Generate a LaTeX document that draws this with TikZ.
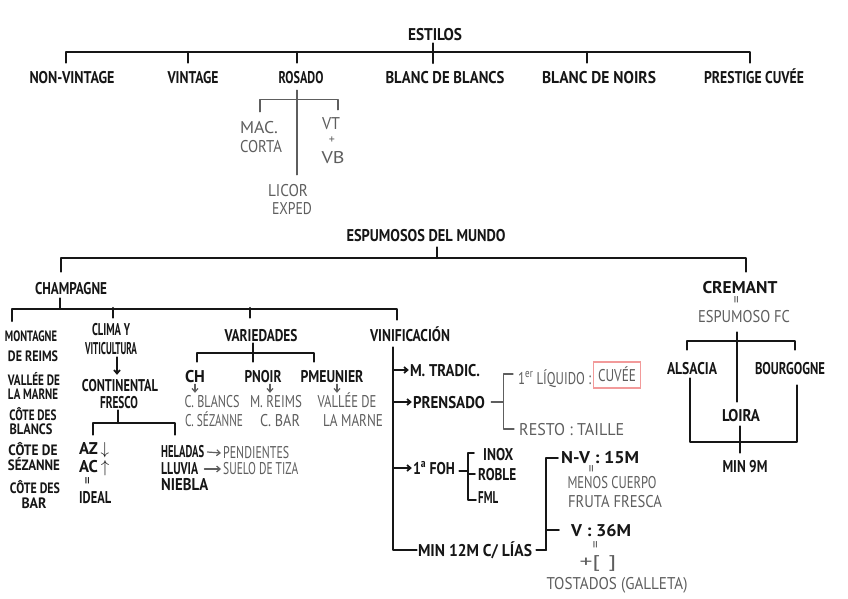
\documentclass[tikz,border=0pt]{standalone}
\usepackage{fontspec}
\setmainfont{PT Sans}
\usetikzlibrary{arrows.meta,calc}
\definecolor{ink}{HTML}{161616}
\definecolor{pen}{HTML}{5E5E5E}
\definecolor{rosy}{HTML}{F29A9A}
\newcommand\W[2]{\resizebox{#1pt}{\height}{#2}}
\begin{document}
\begin{tikzpicture}[x=1pt,y=-1pt,
  t/.style={inner sep=1pt,text height=12pt,text depth=0pt,font=\fontsize{17}{17}\selectfont\bfseries,text=ink},
  ts/.style={t,inner sep=0.3pt,font=\fontsize{15}{15}\selectfont\bfseries,text height=10.5pt},
  g/.style={inner sep=1pt,text height=12pt,text depth=0pt,font=\fontsize{17}{17}\selectfont,text=pen},
  eqm/.style={inner sep=0pt,text=#1,font=\fontsize{15}{15}\selectfont},
  ln/.style={draw=ink,line width=1.7pt,line cap=round,line join=round},
  gln/.style={draw=pen,line width=1.2pt,line cap=round,line join=round},
  arr/.style={-{Straight Barb[length=3.5pt,width=6pt]}},
]
\fill[white] (0,0) rectangle (848,599);
\useasboundingbox (0,0) rectangle (848,599);

% ---------- ESTILOS ----------
\node[t] (estilos) at (435,35) {\W{54}{ESTILOS}};
\node[t] (nv) at (72,78) {\W{85}{NON-VINTAGE}};
\node[t] (vin) at (193,78) {\W{51}{VINTAGE}};
\node[t] (ros) at (301,78) {\W{45}{ROSADO}};
\node[t] (bdb) at (445,78) {\W{119}{BLANC DE BLANCS}};
\node[t] (bdn) at (599,78) {\W{114}{BLANC DE NOIRS}};
\node[t] (pc) at (754,78) {\W{100}{PRESTIGE CUVÉE}};

\draw[ln] ($(nv.north)+(-6,-8)$) |- ($(pc.north)+(-4,-19)$) -- ($(pc.north)+(-4,-8)$);
\draw[ln] ($(vin.north)+(-5,-8)$) -- ++(0,-11);
\draw[ln] ($(ros.north)+(-4,-8)$) -- ++(0,-11);
\draw[ln] ($(bdn.north)+(-12,-8)$) -- ++(0,-11);
\draw[ln] ($(estilos.south)+(-2,1)$) -- ++(0,20);

% Rosado detail
\node[g] (mac) at (259,127) {\W{38}{MAC.}};
\node[g] (corta) at (261,147) {\W{42}{CORTA}};
\node[g] (vt) at (331,123) {\W{18}{VT}};
\node[eqm=pen,font=\fontsize{12}{12}\selectfont] (plus) at (332,140) {+};
\node[g] (vb) at (333,157) {\W{23}{VB}};
\node[g] (licor) at (288,190) {\W{40}{LICOR}};
\node[g] (exped) at (292,208) {\W{40}{EXPED}};
\draw[gln] ($(ros.south)+(-4,5)$) -- ($(licor.north)+(9,-8)$);
\draw[gln] ($(mac.north)+(1,-8)$) |- ($(vt.north)+(7,-16)$) -- ($(vt.north)+(7,-6)$);

% ---------- ESPUMOSOS DEL MUNDO ----------
\node[t] (esp) at (426,235) {\W{159}{ESPUMOSOS DEL MUNDO}};
\node[t] (champ) at (71,288) {\W{72}{CHAMPAGNE}};
\node[t] (cremant) at (740,287) {\W{75}{CREMANT}};
\draw[ln] ($(esp.south)+(11,5)$) -- ++(0,11);
\draw[ln] ($(champ.north)+(-10,-9)$) |- ($(cremant.north)+(6,-22)$) -- ($(cremant.north)+(6,-8)$);

% Champagne columns
\node[ts] (m1) at (31,336) {\W{52}{MONTAGNE}};
\node[ts] (m2) at (33,356) {\W{50}{DE REIMS}};
\node[ts] (m3) at (34,380) {\W{52}{VALLÉE DE}};
\node[ts] (m4) at (33,394) {\W{50}{LA MARNE}};
\node[ts] (m5) at (33,415) {\W{47}{CÔTE DES}};
\node[ts] (m6) at (31,429) {\W{43}{BLANCS}};
\node[ts] (m7) at (33,450) {\W{49}{CÔTE DE}};
\node[ts] (m8) at (34,465) {\W{52}{SÉZANNE}};
\node[ts] (m9) at (35,488) {\W{50}{CÔTE DES}};
\node[ts] (m10) at (34,503) {\W{25}{BAR}};

\node[t] (clima1) at (111,329) {\W{38}{CLIMA Y}};
\node[t] (clima2) at (111,348) {\W{52}{VITICULTURA}};
\node[t] (var) at (261,335) {\W{73}{VARIEDADES}};
\node[t] (vinif) at (410,335) {\W{80}{VINIFICACIÓN}};

\draw[ln] ($(champ.south)+(-11,3)$) -- ++(0,10);
\draw[ln] ($(m1.north)+(-19,-9)$) |- ($(vinif.north)+(-13,-19)$) -- ($(vinif.north)+(-13,-8)$);
\draw[ln] ($(clima1.north)+(2,-4)$) -- ++(0,-10);
\draw[ln] ($(var.north)+(-11,-10)$) -- ++(0,-10);

% Clima y viticultura
\node[t] (cont1) at (120,385) {\W{76}{CONTINENTAL}};
\node[t] (cont2) at (119,402) {\W{38}{FRESCO}};
\draw[ln,arr] ($(clima2.south)+(6,2)$) -- ($(cont1.north)+(-3,-3)$);
\draw[ln] ($(cont2.south)+(-1,1)$) -- ++(0,13);

\node[t,anchor=west] (az) at (78,448) {\W{30}{AZ\,$\downarrow$}};
\node[t,anchor=west] (ac) at (78,466) {\W{30}{AC\,$\uparrow$}};
\node[eqm=ink] (eq1) at (89,481) {\rotatebox{90}{=}};
\node[t,anchor=west] (ideal) at (78,497) {\W{32}{IDEAL}};
\node[t,anchor=west] (hel) at (160,451) {\W{43}{HELADAS}};
\node[g,anchor=west] (pend) at (222,452) {\W{66}{PENDIENTES}};
\node[t,anchor=west] (llu) at (160,468) {\W{37}{LLUVIA}};
\node[g,anchor=west] (suelo) at (222,468) {\W{75}{SUELO DE TIZA}};
\node[t,anchor=west] (nie) at (160,484) {\W{47}{NIEBLA}};
\draw[ln] ($(az.north west)+(15,-6)$) |- ($(hel.north west)+(15,-21)$) -- ($(hel.north west)+(15,-9)$);
\draw[gln,arr] ($(hel.east)+(2,1)$) -- ($(pend.west)+(-1,1)$);
\draw[gln,arr] ($(llu.east)+(5,1)$) -- ($(suelo.west)+(-1,1)$);

% Variedades
\node[t] (ch) at (195,376) {\W{20}{CH}};
\node[t] (pn) at (263,376) {\W{37}{PNOIR}};
\node[t] (pm) at (332,376) {\W{63}{PMEUNIER}};
\node[g] (cb) at (212,401) {\W{55}{C. BLANCS}};
\node[g] (cs) at (214,420) {\W{58}{C. SÉZANNE}};
\node[g] (mr) at (276,401) {\W{52}{M. REIMS}};
\node[g] (cbar) at (280,420) {\W{40}{C. BAR}};
\node[g] (vd) at (347,401) {\W{59}{VALLÉE DE}};
\node[g] (lm) at (353,420) {\W{60}{LA MARNE}};
\draw[ln] ($(var.south)+(-8,1)$) -- ($(pn.north)+(-10,-7)$);
\draw[ln] ($(ch.north)+(2,-7)$) |- ($(pm.north)+(-18,-16)$) -- ($(pm.north)+(-18,-7)$);
\draw[gln,arr] ($(ch.south)+(0,1)$) -- ($(ch.south |- cb.north)+(0,-1)$);
\draw[gln,arr] ($(pn.south)+(7,1)$) -- ($(pn.south |- mr.north)+(7,-1)$);
\draw[gln,arr] ($(pm.south)+(5,1)$) -- ($(pm.south |- vd.north)+(5,-1)$);

% Vinificacion
\node[t] (mt) at (445,370) {\W{70}{M. TRADIC.}};
\node[t] (pr) at (449,402) {\W{72}{PRENSADO}};
\node[t] (foh) at (434,468) {\W{42}{1\textsuperscript{a} FOH}};
\node[t] (min12) at (475,550) {\W{114}{MIN 12M C/ LÍAS}};
\coordinate (vTop) at ($(vinif.south)+(-17,5)$);
\draw[ln] (vTop) |- (min12.west);
\draw[ln,arr] (vTop |- mt.west) -- (mt.west);
\draw[ln,arr] (vTop |- pr.west) -- (pr.west);
\draw[ln,arr] (vTop |- foh.west) -- (foh.west);

% Prensado
\node[g,anchor=west] (liq) at (517,378) {\W{73}{1\textsuperscript{er} LÍQUIDO :}};
\node[g,draw=rosy,line width=1.2pt,minimum width=47pt,minimum height=26pt,inner sep=0pt] (cuvee) at (617,375) {\W{38}{CUVÉE}};
\node[g,anchor=west] (resto) at (518,429) {\W{105}{RESTO : TAILLE}};
\coordinate (pMid) at ($(pr.east)+(17,0)$);
\draw[gln] ($(pr.east)+(5,0)$) -- (pMid);
\draw[gln] ($(liq.west)+(-4,-4)$) -| (pMid) |- ($(resto.west)+(-4,0)$);

% 1a FOH
\node[t,anchor=west] (inox) at (482,454) {\W{30}{INOX}};
\node[t,anchor=west] (roble) at (477,474) {\W{38}{ROBLE}};
\node[t,anchor=west] (fml) at (477,497) {\W{20}{FML}};
\coordinate (fMid) at ($(foh.east)+(12,3)$);
\draw[ln] ($(foh.east)+(3,3)$) -- (fMid);
\draw[ln] ($(inox.west)+(-8,-1)$) -| (fMid) |- ($(fml.west)+(-1,3)$);
\draw[ln] (fMid |- roble.west) -- ($(roble.west)+(-2,0)$);

% MIN 12M
\node[t,anchor=west] (nv15) at (560,457) {\W{78}{N-V : 15M}};
\node[eqm=pen] (eqA) at (593,469) {\rotatebox{90}{=}};
\node[g] (meno) at (612,482) {\W{89}{MENOS CUERPO}};
\node[g] (fruta) at (615,501) {\W{94}{FRUTA FRESCA}};
\node[t,anchor=west] (v36) at (570,530) {\W{60}{V : 36M}};
\node[eqm=pen] (eqB) at (597,545) {\rotatebox{90}{=}};
\node[g] (plusb) at (598,561) {\W{37}{+[\,\,]}};
\node[g] (tost) at (617,583) {\W{141}{TOSTADOS (GALLETA)}};
\coordinate (mMid) at ($(min12.east)+(13,0)$);
\draw[ln] ($(min12.east)+(3,0)$) -- (mMid);
\draw[ln] ($(nv15.west)+(-2,1)$) -| (mMid);
\draw[ln] (mMid |- v36.west) -- ($(v36.west)+(-11,0)$);

% Cremant
\node[eqm=pen] (eqC) at (738,300) {\rotatebox{90}{=}};
\node[g] (espfc) at (744,316) {\W{92}{ESPUMOSO FC}};
\node[t] (alsacia) at (692,368) {\W{50}{ALSACIA}};
\node[t] (bourg) at (790,368) {\W{70}{BOURGOGNE}};
\node[t] (loira) at (741,415) {\W{38}{LOIRA}};
\node[t] (min9) at (745,466) {\W{45}{MIN 9M}};
\draw[ln] ($(espfc.south)+(-7,9)$) -- ($(loira.north)+(-4,-6)$);
\draw[ln] ($(alsacia.north)+(-5,-11)$) |- ($(bourg.north)+(5,-20)$) -- ($(bourg.north)+(5,-11)$);
\draw[ln] ($(alsacia.south)+(-2,3)$) |- ($(bourg.south)+(7,67)$) -- ($(bourg.south)+(7,10)$);
\draw[ln] ($(loira.south)+(-1,4)$) -- ($(min9.north)+(-5,-6)$);
\end{tikzpicture}
\end{document}
